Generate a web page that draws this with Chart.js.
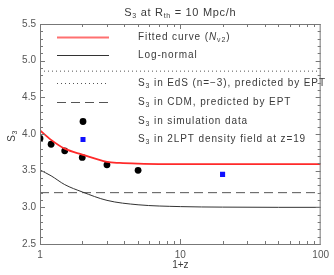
<!DOCTYPE html>
<html>
<head>
<meta charset="utf-8">
<script src="https://cdn.jsdelivr.net/npm/chart.js@4"></script>
<style>
  html, body { margin: 0; padding: 0; background: #fff; }
  #wrap { width: 334px; height: 275px; }
</style>
</head>
<body>
<div id="wrap"><canvas id="s3Chart" width="334" height="275"></canvas></div>
<script>
/* ── Data ── */
const fitX = [1, 1.2, 1.5, 2, 3, 3.7, 5, 7, 10, 20, 50, 100];
const fitY = [4.05, 3.92, 3.80, 3.72, 3.62, 3.605, 3.595, 3.59, 3.59, 3.59, 3.59, 3.59];
const lnX = [1, 1.2, 1.5, 2, 3, 5, 10, 20, 50, 100];
const lnY = [3.51, 3.43, 3.31, 3.21, 3.095, 3.035, 3.01, 3.003, 3.0, 3.0];
const simX = [1, 1.2, 1.5, 2, 3, 5];
const simY = [3.94, 3.86, 3.77, 3.68, 3.58, 3.505];
const lptX = [20];
const lptY = [3.45];
const edsS3 = 4.857;
const cdmS3 = 3.2;
const xRange = [1, 100];
const yRange = [2.5, 5.5];
const xTickLabels = [1, 10, 100];
const yTickLabels = [2.5, 3.0, 3.5, 4.0, 4.5, 5.0, 5.5];

const FONT = "'Liberation Sans', Arial, sans-serif";
const TXT = "#3a3a3a";
const AXIS = "#777";

const pts = (xs, ys) => xs.map((x, i) => ({ x, y: ys[i] }));
const flat = (v) => xRange.map((x) => ({ x, y: v }));

/* ── Text with subscripts ── */
function fontFor(k, size) {
  if (k === "sub") return `${Math.round(size * 0.68)}px ${FONT}`;
  if (k === "it") return `italic ${size}px ${FONT}`;
  return `${size}px ${FONT}`;
}
function drawRich(ctx, parts, x, y, size, align, spacing) {
  ctx.letterSpacing = spacing + "px";
  const widths = parts.map(([t, k]) => {
    ctx.font = fontFor(k, size);
    return ctx.measureText(t).width;
  });
  const total = widths.reduce((a, b) => a + b, 0);
  let cx = align === "center" ? x - total / 2 : x;
  parts.forEach(([t, k], i) => {
    ctx.font = fontFor(k, size);
    const dy = k === "sub" ? size * 0.3 : 0;
    ctx.fillText(t, cx, y + dy);
    cx += widths[i];
  });
  ctx.letterSpacing = "0px";
}

/* ── Frame, ticks, title, legend ── */
const decor = {
  id: "decor",
  afterDraw(chart) {
    const { ctx, chartArea: a, scales } = chart;
    const xs = scales.x, ys = scales.y;
    ctx.save();
    ctx.strokeStyle = AXIS;
    ctx.lineWidth = 1;
    ctx.strokeRect(a.left + 0.5, a.top + 0.5, a.right - a.left - 1, a.bottom - a.top);

    ctx.beginPath();
    for (let i = 0; i <= 30; i++) {
      const v = yRange[0] + i * 0.1;
      const len = i % 5 === 0 ? 5 : 3;
      const py = Math.round(ys.getPixelForValue(v)) + 0.5;
      ctx.moveTo(a.left, py); ctx.lineTo(a.left + len, py);
      ctx.moveTo(a.right, py); ctx.lineTo(a.right - len, py);
    }
    for (let d = 1; d <= 10; d *= 10) {
      for (let m = 1; m <= 9; m++) {
        const v = d * m;
        if (v > xRange[1]) break;
        const len = m === 1 ? 5 : 3;
        const px = Math.round(xs.getPixelForValue(v)) + 0.5;
        ctx.moveTo(px, a.bottom); ctx.lineTo(px, a.bottom - len);
        ctx.moveTo(px, a.top); ctx.lineTo(px, a.top + len);
      }
    }
    ctx.stroke();

    ctx.fillStyle = TXT;
    ctx.textBaseline = "middle";
    ctx.textAlign = "left";
    drawRich(ctx, [["S", "n"], ["3", "sub"], [" at R", "n"], ["th", "sub"], [" = 10 Mpc/h", "n"]],
      (a.left + a.right) / 2, 13, 11, "center", 0.7);

    ctx.save();
    ctx.translate(12, (a.top + a.bottom) / 2 + 2);
    ctx.rotate(-Math.PI / 2);
    drawRich(ctx, [["S", "n"], ["3", "sub"]], 0, 0, 10, "center", 0.5);
    ctx.restore();

    /* legend */
    const x0 = 57, x1 = 109, tx = 138;
    const rows = [37, 55, 83, 101.5, 120.5, 139];
    const styles = chart.data.datasets;
    const labels = [
      [["Fitted curve (", "n"], ["N", "it"], ["ν2", "sub"], [")", "n"]],
      [["Log-normal", "n"]],
      [["S", "n"], ["3", "sub"], [" in EdS (n=−3), predicted by EPT", "n"]],
      [["S", "n"], ["3", "sub"], [" in CDM, predicted by EPT", "n"]],
      [["S", "n"], ["3", "sub"], [" in simulation data", "n"]],
      [["S", "n"], ["3", "sub"], [" in 2LPT density field at z=19", "n"]],
    ];
    styles.forEach((ds, r) => {
      const y = Math.round(rows[r]) + 0.5;
      if (ds.showLine) {
        ctx.save();
        ctx.strokeStyle = r === 0 ? "#ff7070" : ds.borderColor;
        ctx.lineWidth = ds.borderWidth;
        ctx.setLineDash(ds.borderDash || []);
        ctx.beginPath(); ctx.moveTo(x0, y); ctx.lineTo(x1, y); ctx.stroke();
        ctx.restore();
      } else {
        ctx.fillStyle = ds.pointBackgroundColor;
        const cx = (x0 + x1) / 2;
        ctx.beginPath();
        if (ds.pointStyle === "rect") ctx.rect(cx - 2.5, y - 2.5, 5, 5);
        else ctx.arc(cx, y, ds.pointRadius, 0, Math.PI * 2);
        ctx.fill();
      }
      ctx.fillStyle = TXT;
      drawRich(ctx, labels[r], tx, y, 10, "left", 0.9);
    });
    ctx.restore();
  },
};

new Chart(document.getElementById("s3Chart"), {
  type: "scatter",
  data: {
    datasets: [
      { data: pts(fitX, fitY), showLine: true, borderColor: "#ff2a2a", borderWidth: 1.8,
        pointRadius: 0, cubicInterpolationMode: "monotone" },
      { data: pts(lnX, lnY), showLine: true, borderColor: "#333", borderWidth: 1,
        pointRadius: 0, cubicInterpolationMode: "monotone" },
      { data: flat(edsS3), showLine: true, borderColor: "#555", borderWidth: 1,
        borderDash: [1, 3], pointRadius: 0 },
      { data: flat(cdmS3), showLine: true, borderColor: "#555", borderWidth: 1,
        borderDash: [9, 5], pointRadius: 0 },
      { data: pts(simX, simY), showLine: false, pointRadius: 3.4, pointBackgroundColor: "#000",
        pointBorderWidth: 0, clip: 0 },
      { data: pts(lptX, lptY), showLine: false, pointStyle: "rect", pointRadius: 3.6,
        pointBackgroundColor: "#1010ff", pointBorderWidth: 0 },
    ],
  },
  options: {
    responsive: false,
    animation: false,
    layout: { padding: { top: 24, right: 13, left: 0, bottom: 0 } },
    plugins: { legend: { display: false }, tooltip: { enabled: false } },
    scales: {
      x: {
        type: "logarithmic",
        min: xRange[0],
        max: xRange[1],
        afterBuildTicks: (s) => { s.ticks = xTickLabels.map((v) => ({ value: v })); },
        afterFit: (s) => { s.height = 31; },
        grid: { display: false, drawTicks: false },
        border: { display: false },
        ticks: { callback: (v) => String(v), color: "#555", padding: 5,
          font: { family: FONT, size: 10 }, maxRotation: 0, autoSkip: false },
        title: { display: true, text: "1+z", color: TXT,
          font: { family: FONT, size: 10 }, padding: { top: 0, bottom: 4 } },
      },
      y: {
        min: yRange[0],
        max: yRange[1],
        afterBuildTicks: (s) => { s.ticks = yTickLabels.map((v) => ({ value: v })); },
        afterFit: (s) => { s.width = 40; },
        grid: { display: false, drawTicks: false },
        border: { display: false },
        ticks: { callback: (v) => v.toFixed(1), color: "#555", padding: 4,
          font: { family: FONT, size: 10 } },
      },
    },
  },
  plugins: [decor],
});
</script>
</body>
</html>
